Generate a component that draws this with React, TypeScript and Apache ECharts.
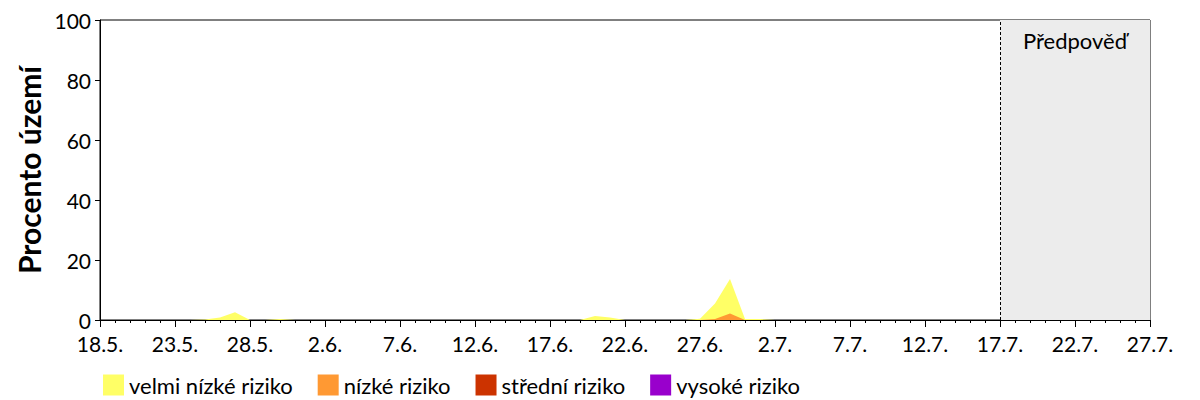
import React, { useEffect, useRef } from "react";
import * as echarts from "echarts";

// Dates 18.5. – 27.7. (daily)
const startDay = { day: 18, month: 5 };
const totalDays = 71;
const forecastStart = "17.7.";
const forecastEnd = "27.7.";

// Observed values per day starting 18.5. (ending 17.7.)
const velmiNizke = [
  0, 0, 0, 0, 0, 0, 0, 0.2, 0.8, 2.6,
  0, 0, 0.3, 0, 0, 0, 0, 0, 0, 0,
  0, 0, 0, 0, 0, 0, 0, 0, 0, 0,
  0, 0, 0, 1.3, 0.8, 0, 0, 0, 0, 0,
  0.4, 5.5, 13.7, 0.3, 0.3, 0, 0, 0, 0, 0,
  0, 0, 0, 0, 0, 0, 0, 0, 0, 0,
  0,
];
const nizke = [
  0, 0, 0, 0, 0, 0, 0, 0, 0, 0,
  0, 0, 0, 0, 0, 0, 0, 0, 0, 0,
  0, 0, 0, 0, 0, 0, 0, 0, 0, 0,
  0, 0, 0, 0, 0, 0, 0, 0, 0, 0,
  0, 0.3, 2.2, 0, 0, 0, 0, 0, 0, 0,
  0, 0, 0, 0, 0, 0, 0, 0, 0, 0,
  0,
];
const stredni = new Array(61).fill(0);
const vysoke = new Array(61).fill(0);

const seriesNames = ["velmi nízké riziko", "nízké riziko", "střední riziko", "vysoké riziko"];
const seriesColors = ["#ffff66", "#ff9933", "#cc3300", "#9900cc"];
const yTicks = [0, 20, 40, 60, 80, 100];

function buildDates(): string[] {
  const out: string[] = [];
  const d = new Date(2021, startDay.month - 1, startDay.day);
  for (let i = 0; i < totalDays; i++) {
    out.push(`${d.getDate()}.${d.getMonth() + 1}.`);
    d.setDate(d.getDate() + 1);
  }
  return out;
}

const FONT = "Lato";

export default function App() {
  const ref = useRef<HTMLDivElement>(null);
  useEffect(() => {
    if (!ref.current) return;
    const chart = echarts.init(ref.current, undefined, { renderer: "svg" });
    const dates = buildDates();
    const allData = [velmiNizke, nizke, stredni, vysoke];
    const series: any[] = allData.map((vals, i) => ({
      name: seriesNames[i],
      type: "line",
      xAxisIndex: 0,
      data: vals,
      showSymbol: false,
      symbol: "none",
      lineStyle: { width: 0 },
      itemStyle: { color: seriesColors[i] },
      areaStyle: { color: seriesColors[i], opacity: 1 },
      z: 3 + i,
    }));
    series.push({
      name: "forecast",
      type: "line",
      data: [],
      markArea: {
        silent: true,
        itemStyle: { color: "#ececec" },
        label: {
          show: true,
          position: "insideTop",
          distance: 9,
          color: "#000",
          fontFamily: FONT,
          fontSize: 22,
        },
        data: [[{ xAxis: forecastStart, name: "Předpověď" }, { xAxis: forecastEnd }]],
      },
      markLine: {
        silent: true,
        symbol: "none",
        label: { show: false },
        lineStyle: { color: "#000", type: [3, 2], width: 1 },
        data: [{ xAxis: forecastStart }],
      },
      z: 1,
    });
    chart.setOption({
      animation: false,
      textStyle: { fontFamily: FONT },
      grid: {
        left: 100,
        right: 50,
        top: 20,
        bottom: 80,
        show: true,
        borderColor: "#000",
        borderWidth: 1,
        backgroundColor: "transparent",
      },
      legend: {
        data: seriesNames,
        left: 98,
        top: 369,
        itemWidth: 21,
        itemHeight: 21,
        itemGap: 25,
        icon: "rect",
        textStyle: { fontFamily: FONT, fontSize: 22, lineHeight: 22, color: "#000" },
      },
      xAxis: [
        {
          type: "category",
          data: dates,
          boundaryGap: false,
          axisLine: { show: true, lineStyle: { color: "#000", width: 1 } },
          axisTick: { show: true, interval: 4, length: 7, lineStyle: { color: "#000" } },
          axisLabel: { interval: 4, color: "#000", fontFamily: FONT, fontSize: 21, margin: 13 },
          splitLine: { show: false },
        },
        {
          type: "category",
          data: dates,
          boundaryGap: false,
          position: "bottom",
          axisLine: { show: false },
          axisTick: { show: true, interval: 0, length: 3, lineStyle: { color: "#000" } },
          axisLabel: { show: false },
          splitLine: { show: false },
        },
      ],
      yAxis: {
        type: "value",
        min: yTicks[0],
        max: yTicks[yTicks.length - 1],
        interval: 20,
        name: "Procento území",
        nameLocation: "middle",
        nameGap: 54,
        nameTextStyle: { fontFamily: FONT, fontSize: 30, fontWeight: "bold", color: "#000" },
        axisLine: { show: true, lineStyle: { color: "#000", width: 1 } },
        axisTick: { show: true, length: 5, lineStyle: { color: "#000" } },
        axisLabel: { color: "#000", fontFamily: FONT, fontSize: 21, lineHeight: 21, margin: 9 },
        splitLine: { show: false },
      },
      series,
    });
    return () => chart.dispose();
  }, []);
  return (
    <div
      ref={ref}
      style={{ position: "fixed", left: 0, top: 0, width: 1200, height: 400, background: "#fff" }}
    />
  );
}
